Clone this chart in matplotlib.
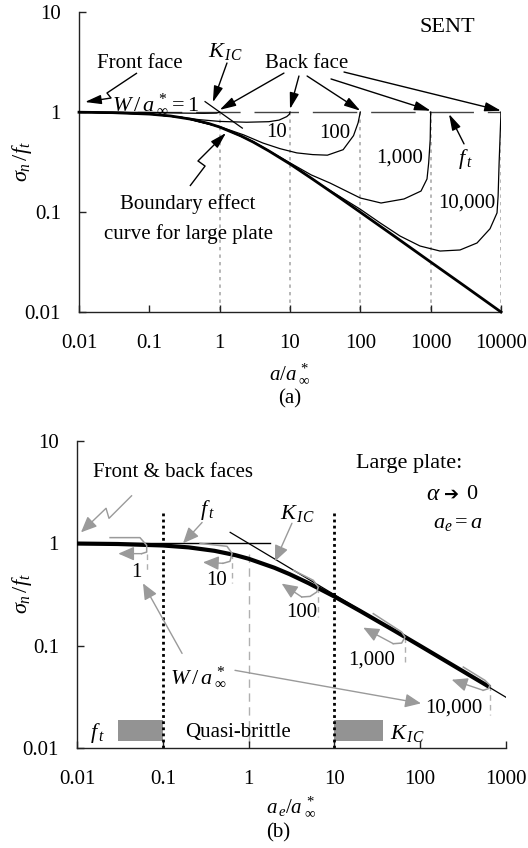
import matplotlib
matplotlib.use("Agg")
import matplotlib.pyplot as plt

plt.rcParams['font.family'] = ['Liberation Serif', 'DejaVu Sans']
plt.rcParams['mathtext.fontset'] = 'custom'
plt.rcParams['mathtext.rm'] = 'Liberation Serif'
plt.rcParams['mathtext.it'] = 'Liberation Serif:italic'
plt.rcParams['mathtext.bf'] = 'Liberation Serif:bold'

# ---------------- (a) SENT specimens ----------------
x_ticks_a = [0.01, 0.1, 1, 10, 100, 1000, 10000]
x_ticklabels_a = ['0.01', '0.1', '1', '10', '100', '1000', '10000']
y_ticks = [0.01, 0.1, 1, 10]
y_ticklabels = ['0.01', '0.1', '1', '10']

# boundary effect curve for a large plate
a_large = [0.01, 0.03, 0.1, 0.2, 0.4, 0.7, 1, 2, 3, 5, 10, 20, 50, 100, 300, 1000, 3000, 10000]
s_large = [0.995, 0.985, 0.953, 0.913, 0.845, 0.767, 0.707, 0.577, 0.5, 0.408, 0.302,
           0.218, 0.14, 0.0995, 0.0577, 0.0316, 0.0183, 0.01]

# finite-width SENT curves, W/a*_inf = 1 ... 10,000
widths = [1, 10, 100, 1000, 10000]
a_w1 = [0.01, 0.1, 0.3, 0.6, 0.9, 1.0]
s_w1 = [1.0, 0.99, 0.975, 0.97, 0.975, 1.0]
a_w10 = [0.01, 0.1, 0.3, 0.5, 1.0, 2.4, 5.0, 7.0, 9.0, 9.8, 10]
s_w10 = [1.0, 0.955, 0.88, 0.84, 0.805, 0.79, 0.8, 0.83, 0.9, 0.95, 1.0]
a_w100 = [0.01, 0.1, 0.3, 1.0, 2.2, 4.1, 7.2, 12.5, 21, 34, 57, 80, 93, 100]
s_w100 = [1.0, 0.955, 0.88, 0.715, 0.59, 0.49, 0.43, 0.39, 0.375, 0.37, 0.42, 0.58, 0.78, 1.0]
a_w1000 = [0.01, 0.1, 0.3, 1.0, 3.0, 10, 20, 37, 100, 197, 418, 729, 887, 937, 985, 1000]
s_w1000 = [1.0, 0.955, 0.88, 0.71, 0.505, 0.31, 0.235, 0.195, 0.138, 0.123, 0.135, 0.162,
           0.214, 0.31, 0.53, 1.0]
a_w10000 = [0.01, 0.1, 0.3, 1, 3, 10, 30, 99, 190, 367, 706, 1358, 2613, 4560, 6980, 8780,
            9100, 9400, 10000]
s_w10000 = [1.0, 0.955, 0.88, 0.71, 0.505, 0.305, 0.18, 0.107, 0.078, 0.0575, 0.0457, 0.0407,
            0.0417, 0.049, 0.068, 0.098, 0.145, 0.31, 1.0]

# tensile strength limit and LEFM asymptote
ft_a = [0.01, 10000]
ft_a_s = [1, 1]
kic_a = [0.62, 2.1]
kic_a_s = [1.27, 0.69]

# ---------------- (b) large plate, a_e = a ----------------
x_ticks_b = [0.01, 0.1, 1, 10, 100, 1000]
x_ticklabels_b = ['0.01', '0.1', '1', '10', '100', '1000']

ae_large = [0.01, 0.03, 0.1, 0.2, 0.4, 0.7, 1, 2, 3, 5, 10, 20, 50, 100, 200, 618]
s_large_b = [0.995, 0.985, 0.953, 0.913, 0.845, 0.767, 0.707, 0.577, 0.5, 0.408, 0.302,
             0.218, 0.14, 0.0995, 0.0705, 0.0402]
ft_b = [0.01, 1.78]
ft_b_s = [1, 1]
kic_b = [0.61, 1000]
kic_b_s = [1.28, 0.0313]

# hooks of the finite-width curves: body points and arrow tip
hook_x_1 = [0.0243, 0.0542, 0.0649, 0.0649, 0.0568]
hook_s_1 = [1.137, 1.137, 0.956, 0.822, 0.793]
tip_1 = (0.0303, 0.793)
hook_x_10 = [0.272, 0.560, 0.641, 0.607, 0.504]
hook_s_10 = [1.0, 0.935, 0.798, 0.667, 0.638]
tip_10 = (0.294, 0.652)
hook_x_100 = [3.32, 5.68, 6.49, 6.22, 5.2, 4.16]
hook_s_100 = [0.545, 0.435, 0.374, 0.334, 0.303, 0.299]
tip_100 = (2.43, 0.404)
hook_x_1000 = [28.4, 60.8, 66.5, 60.8, 48.6]
hook_s_1000 = [0.2055, 0.136, 0.1214, 0.106, 0.1045]
tip_1000 = (21.7, 0.15)
hook_x_10000 = [318, 569, 651, 622, 543]
hook_s_10000 = [0.0618, 0.0458, 0.0409, 0.038, 0.0366]
tip_10000 = (233, 0.0465)
# back-face drop lines below each hook
drop_x = [0.0649, 0.641, 6.49, 66.5, 651]
drop_top = [0.793, 0.798, 0.374, 0.1214, 0.0409]
drop_bot = [0.521, 0.406, 0.189, 0.0642, 0.0208]

# strength-controlled zones
zone_ft = [0.03, 0.1]
zone_kic = [10, 36.8]
zone_s = [0.0116, 0.0186]

GRAY = '#9a9a9a'
W_px, H_px = 528, 848
fig = plt.figure(figsize=(W_px / 100, H_px / 100), dpi=100)


def axes_px(left, right, top, bottom):
    return fig.add_axes([left / W_px, 1 - bottom / H_px, (right - left) / W_px,
                         (bottom - top) / H_px])


def style_axes(ax, xt, xtl):
    ax.set_xscale('log')
    ax.set_yscale('log')
    ax.set_yticks(y_ticks)
    ax.set_yticklabels(y_ticklabels)
    ax.set_xticks(xt)
    ax.set_xticklabels(xtl)
    ax.minorticks_off()
    for s in ('top', 'right'):
        ax.spines[s].set_visible(False)
    for s in ('left', 'bottom'):
        ax.spines[s].set_linewidth(1.0)
        ax.spines[s].set_color('#222222')
    ax.tick_params(direction='in', length=5, width=1, labelsize=15, color='#222222')
    ax.tick_params(axis='x', pad=16)
    ax.tick_params(axis='y', pad=13)
    ax.patch.set_alpha(0)


def arrow(ax, tail, tip, color='black', head='-|>,head_length=0.7,head_width=0.2', ms=14):
    ax.annotate('', xy=tip, xytext=tail,
                arrowprops=dict(arrowstyle=head, color=color, lw=1.0, shrinkA=0, shrinkB=0,
                                mutation_scale=ms))


def bolt(ax, pts, color='black', **kw):
    xs = [p[0] for p in pts[:-1]]
    ys = [p[1] for p in pts[:-1]]
    ax.plot(xs, ys, color=color, lw=1.0, solid_capstyle='butt')
    arrow(ax, pts[-2], pts[-1], color=color, **kw)


# ================= panel (a) =================
ax1 = axes_px(79, 501, 12, 312)
style_axes(ax1, x_ticks_a, x_ticklabels_a)
ax1.set_xlim(0.01, 10000)
ax1.set_ylim(0.01, 10)

for w in widths:
    ax1.plot([w, w], [1, 0.01], color='#aaaaaa', lw=1.2, ls=(0, (2, 2.5)), zorder=1)

ax1.plot(ft_a, ft_a_s, color='#444444', lw=1.0, ls=(0, (32, 10)), zorder=2)
ax1.plot(kic_a, kic_a_s, color='black', lw=0.9, zorder=3)
for xs, ys in [(a_w1, s_w1), (a_w10, s_w10), (a_w100, s_w100), (a_w1000, s_w1000),
               (a_w10000, s_w10000)]:
    ax1.plot(xs, ys, color='black', lw=0.9, zorder=3)
ax1.plot(a_large, s_large, color='black', lw=2.0, zorder=4, clip_on=False)

T = dict(fontsize=15, ha='center', va='center')
ax1.text(1710, 6.92, 'SENT', fontsize=16, ha='center', va='center')
ax1.text(0.0736, 3.09, 'Front face', **T)
ax1.text(1.19, 4.07, r'$K_{\,IC}$', fontsize=16, ha='center', va='center')
ax1.text(17.5, 3.02, 'Back face', **T)
ax1.text(0.125, 1.2, r'$W\,/\,a^{\,*}_{\;\infty} = 1$', fontsize=16, ha='center', va='center')
ax1.text(6.54, 0.617, '10', **T)
ax1.text(43.6, 0.603, '100', **T)
ax1.text(367, 0.347, '1,000', **T)
ax1.text(3290, 0.123, '10,000', **T)
ax1.text(3080, 0.339, r'$f_{\,t}$', fontsize=16, ha='center', va='center')
ax1.text(0.355, 0.12, 'Boundary effect', **T)
ax1.text(0.355, 0.060, 'curve for large plate', **T)

arrow(ax1, (1.27, 3.09), (0.8, 1.25))
arrow(ax1, (8.2, 2.45), (1.0, 1.05))
arrow(ax1, (13.4, 2.29), (10, 1.07))
arrow(ax1, (17.5, 2.29), (100, 1.03))
arrow(ax1, (38.3, 2.14), (1000, 1.03))
arrow(ax1, (58.6, 2.51), (10000, 1.03))
arrow(ax1, (2980, 0.48), (1820, 0.955))
bolt(ax1, [(0.0668, 2.455), (0.025, 1.549), (0.0285, 1.38), (0.01217, 1.259)])
bolt(ax1, [(0.378, 0.182), (0.62, 0.288), (0.492, 0.324), (1.23, 0.617)])

fig.text(22 / W_px, 1 - 162 / H_px, r'$\sigma_n\,/f_t$', rotation=90, fontsize=16,
         ha='center', va='center')
fig.text(290 / W_px, 1 - 373 / H_px, r'$a/a^{\,*}_{\;\infty}$', fontsize=15,
         ha='center', va='center')
fig.text(290 / W_px, 1 - 399 / H_px, '(a)', fontsize=15, ha='center', va='center')

# ================= panel (b) =================
ax2 = axes_px(77, 506, 441, 748)
style_axes(ax2, x_ticks_b, x_ticklabels_b)
ax2.set_xlim(0.01, 1000)
ax2.set_ylim(0.01, 10)

for xv in (0.1, 10):
    ax2.plot([xv, xv], [2.0, 0.01], color='black', lw=2.0, ls=(0, (1, 1.2)), zorder=2)
ax2.plot([1, 1], [0.78, 0.01], color='#b0b0b0', lw=1.0, ls=(0, (6, 4)), zorder=1)
for xv, y0, y1 in zip(drop_x, drop_top, drop_bot):
    ax2.plot([xv, xv], [y0, y1], color='#b0b0b0', lw=1.0, ls=(0, (4, 3)), zorder=1)

ax2.fill_between(zone_ft, zone_s[0], zone_s[1], color='#939393', lw=0)
ax2.fill_between(zone_kic, zone_s[0], zone_s[1], color='#939393', lw=0)

ax2.plot(ft_b, ft_b_s, color='black', lw=1.0, zorder=3)
ax2.plot(kic_b, kic_b_s, color='black', lw=0.9, zorder=3)
ax2.plot(ae_large, s_large_b, color='black', lw=3.0, zorder=4)

head_g = '-|>,head_length=0.8,head_width=0.35'
for hx, hs, tp in [(hook_x_1, hook_s_1, tip_1), (hook_x_10, hook_s_10, tip_10),
                   (hook_x_100, hook_s_100, tip_100), (hook_x_1000, hook_s_1000, tip_1000),
                   (hook_x_10000, hook_s_10000, tip_10000)]:
    ax2.plot(hx, hs, color=GRAY, lw=1.1, zorder=5)
    arrow(ax2, (hx[-1], hs[-1]), tp, color=GRAY, head=head_g, ms=12)

ax2.text(0.1315, 4.94, 'Front & back faces', **T)
ax2.text(74, 6.05, 'Large plate:', fontsize=16, ha='center', va='center')
ax2.text(141, 3.01, r'$\alpha$', fontsize=17, ha='center', va='center')
ax2.text(189, 3.01, '\u2794', fontsize=13, ha='left', va='center', family='DejaVu Sans')
ax2.text(400, 3.01, '0', fontsize=16, ha='center', va='center')
ax2.text(276, 1.57, r'$a_e = a$', fontsize=16, ha='center', va='center')
ax2.text(0.327, 2.1, r'$f_{\,t}$', fontsize=16, ha='center', va='center')
ax2.text(3.66, 1.96, r'$K_{\,IC}$', fontsize=16, ha='center', va='center')
ax2.text(0.0487, 0.521, '1', **T)
ax2.text(0.428, 0.435, '10', **T)
ax2.text(4.19, 0.212, '100', **T)
ax2.text(27.4, 0.0718, '1,000', **T)
ax2.text(248, 0.0244, '10,000', **T)
ax2.text(0.257, 0.049, r'$W\,/\,a^{\,*}_{\;\infty}$', fontsize=16, ha='center', va='center')
ax2.text(0.0171, 0.0139, r'$f_{\,t}$', fontsize=16, ha='center', va='center')
ax2.text(0.752, 0.0142, 'Quasi-brittle', **T)
ax2.text(70.2, 0.0139, r'$K_{\,IC}$', fontsize=16, ha='center', va='center')

arrow(ax2, (0.287, 1.6), (0.172, 1.0), color=GRAY, head=head_g, ms=12)
arrow(ax2, (3.2, 1.57), (2.03, 0.667), color=GRAY, head=head_g, ms=12)
arrow(ax2, (0.1677, 0.084), (0.0588, 0.406), color=GRAY, head=head_g, ms=12)
arrow(ax2, (0.694, 0.0574), (102, 0.0273), color=GRAY, head=head_g, ms=12)
bolt(ax2, [(0.0438, 2.945), (0.0236, 1.755), (0.0218, 2.2), (0.01113, 1.281)], color=GRAY,
     head=head_g, ms=12)

fig.text(22 / W_px, 1 - 594 / H_px, r'$\sigma_n\,/f_t$', rotation=90, fontsize=16,
         ha='center', va='center')
fig.text(291 / W_px, 1 - 806 / H_px, r'$a_{\,e}/a^{\,*}_{\;\infty}$', fontsize=15,
         ha='center', va='center')
fig.text(278 / W_px, 1 - 833 / H_px, '(b)', fontsize=15, ha='center', va='center')

fig.savefig('out.png', dpi=100)
